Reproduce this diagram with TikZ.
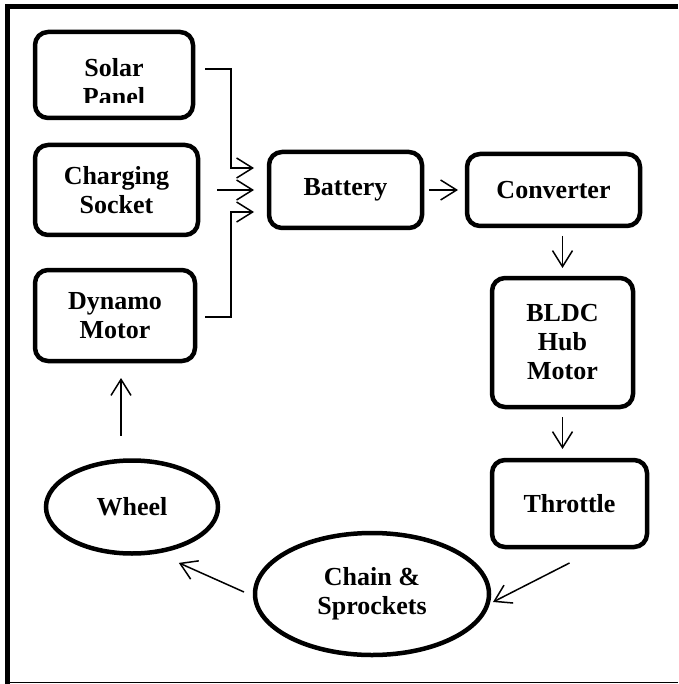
\documentclass[tikz,border=0pt]{standalone}
\usepackage{fontspec}
\setmainfont{Liberation Serif}
\usetikzlibrary{positioning, arrows.meta, shapes.geometric}

\begin{document}
\begin{tikzpicture}[
  x=1pt, y=-1pt,
  lbl/.style={
    font=\fontsize{26}{29}\selectfont\bfseries,
    align=center, inner sep=0pt, outer sep=0pt
  },
  blk/.style n args={2}{
    lbl, rectangle, rounded corners=13pt, draw=black, line width=4.5pt,
    minimum width=#1, minimum height=#2
  },
  oval/.style n args={2}{
    lbl, ellipse, draw=black, line width=4.5pt,
    minimum width=#1, minimum height=#2
  },
  flowarrow/.style={
    line width=1.5pt, -{Straight Barb[length=16pt, width=20pt]}, color=black
  }
]
\useasboundingbox (0,0) rectangle (678,684);

%% === FRAME ===
\draw[line width=5pt] (678,6.5) -- (7.5,6.5) -- (7.5,684);
\draw[line width=1.5pt] (7.5,682.5) -- (678,682.5);

%% === SOURCES (left column) ===
\node[blk={158pt}{86pt}] (solar) at (114,75) {};
\begin{scope}
  \clip (35,32) rectangle (193,103);
  \node[lbl] (solartxt) at (114,82) {Solar\\Panel};
\end{scope}
\node[blk={163pt}{90pt}] (charging) at (116.5,190) {Charging\\Socket};
\node[blk={160pt}{91pt}] (dynamo) at (115,315.5) {Dynamo\\Motor};

%% === MAIN CHAIN ===
\node[blk={153pt}{76pt}]  (battery)   at (345.5,190) {Battery};
\node[blk={173pt}{72pt}]  (converter) at (553.5,190) {Converter};
\node[blk={141pt}{129pt}] (bldc)      at (562.5,342.5) {BLDC\\Hub\\Motor};
\node[blk={155pt}{87pt}]  (throttle)  at (569.5,503.5) {Throttle};
\node[oval={234pt}{122pt}] (chain)    at (372,594) {Chain \&\\Sprockets};
\node[oval={172pt}{93pt}]  (wheel)    at (132,507) {Wheel};

%% === INPUTS TO BATTERY ===
\draw[flowarrow, shorten >=15pt]
  ([xshift=12pt, yshift=6pt]solar.east) -- ++(26,0) |- ([yshift=22pt]battery.west);
\draw[flowarrow, shorten <=19pt, shorten >=15pt] (charging.east) -- (battery.west);
\draw[flowarrow, shorten >=15pt]
  ([xshift=10pt, yshift=-1.5pt]dynamo.east) -- ++(26,0) |- ([yshift=-22pt]battery.west);

%% === FORWARD ARROWS ===
\draw[flowarrow, shorten <=7pt, shorten >=9pt] (battery.east) -- (converter.west);
\draw[flowarrow, shorten <=10pt, shorten >=10pt] (converter.south -| bldc.north) -- (bldc.north);
\draw[flowarrow, shorten <=10pt, shorten >=11pt] (bldc.south) -- (bldc.south |- throttle.north);
\draw[flowarrow] ([yshift=-16pt]throttle.south) -- ([xshift=4pt, yshift=-8pt]chain.east);
\draw[flowarrow] ([xshift=-11pt, yshift=2pt]chain.west) -- ([xshift=-14pt, yshift=-23pt]wheel.south east);
\draw[flowarrow] ([xshift=-11pt, yshift=25pt]wheel.north) -- ([xshift=6pt, yshift=-17pt]dynamo.south);

\end{tikzpicture}
\end{document}
